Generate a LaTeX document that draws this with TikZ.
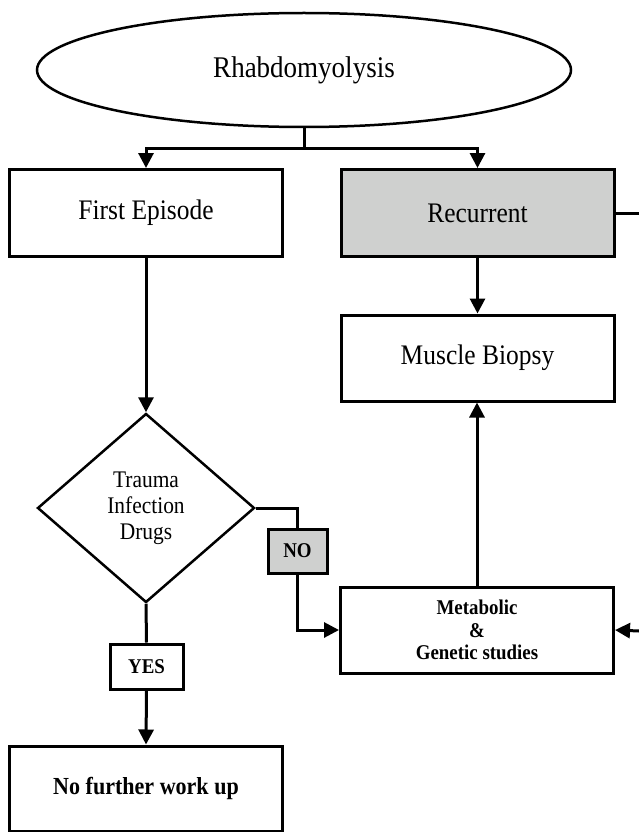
\documentclass[tikz,border=0pt]{standalone}
\usepackage{fontspec}
\setmainfont{Liberation Serif}[FakeStretch=0.9]
\usetikzlibrary{shapes.geometric,arrows.meta}
\definecolor{boxgray}{RGB}{207,208,207}
\begin{document}
\begin{tikzpicture}[x=1pt,y=-1pt,
  box/.style={draw, line width=3pt, rectangle, inner sep=0pt, minimum width=273pt, minimum height=87pt, align=center, font=\fontsize{28.3}{33}\selectfont},
  label/.style={draw, line width=3pt, rectangle, inner sep=0pt, align=center, font=\fontsize{21}{24}\selectfont\bfseries},
  conn/.style={line width=3pt},
  arr/.style={line width=3pt, -{Triangle[length=15pt,width=15pt]}},
]
\useasboundingbox (0,0) rectangle (639,832);

\node[draw, ellipse, line width=2.5pt, inner sep=0pt, minimum width=534pt, minimum height=114pt, font=\fontsize{30}{35}\selectfont] (rh) at (304,70) {Rhabdomyolysis};

\node[box] (first) at (146,213) {First Episode};
\node[box, fill=boxgray] (rec) at (477.5,213) {Recurrent};
\node[box, minimum height=86pt] (mb) at (477.5,358) {Muscle Biopsy};

\node[draw, diamond, line width=2.5pt, inner sep=0pt, minimum width=217pt, minimum height=189pt, align=center, font=\fontsize{23.8}{26}\selectfont] (dia) at (146,508) {Trauma\\Infection\\Drugs};

\node[label, fill=boxgray, minimum width=59pt, minimum height=44pt] (no) at (297.5,551) {NO};
\node[box, minimum height=86pt, font=\fontsize{21}{22.5}\selectfont\bfseries] (met) at (477,630) {Metabolic\\\&\\Genetic studies};

\node[label, minimum width=73pt, minimum height=45pt] (yes) at (146.5,666.5) {YES};
\node[box, minimum height=85pt, font=\fontsize{24.5}{28}\selectfont\bfseries] (nfw) at (146,788.5) {No further work up};

\coordinate (j) at (304,148);
\coordinate (recout) at (639,213);
\coordinate (metin) at (639,631);

\draw[conn] (rh.south) -- (j);
\draw[arr] (j) -| (first.north);
\draw[arr] (j) -| (rec.north);
\draw[conn] (rec.east) -- (recout);
\draw[arr] (rec.south) -- (mb.north);
\draw[arr] (first.south) -- (dia.north);
\draw[conn] (dia.east) -| (no.north);
\draw[arr] (no.south) |- (met.west);
\draw[arr] (met.north) -- (met.north |- mb.south);
\draw[arr] (metin) -- (met.east);
\draw[conn] (dia.south) -- (yes.north);
\draw[arr] (yes.south) -- (nfw.north);
\end{tikzpicture}
\end{document}
